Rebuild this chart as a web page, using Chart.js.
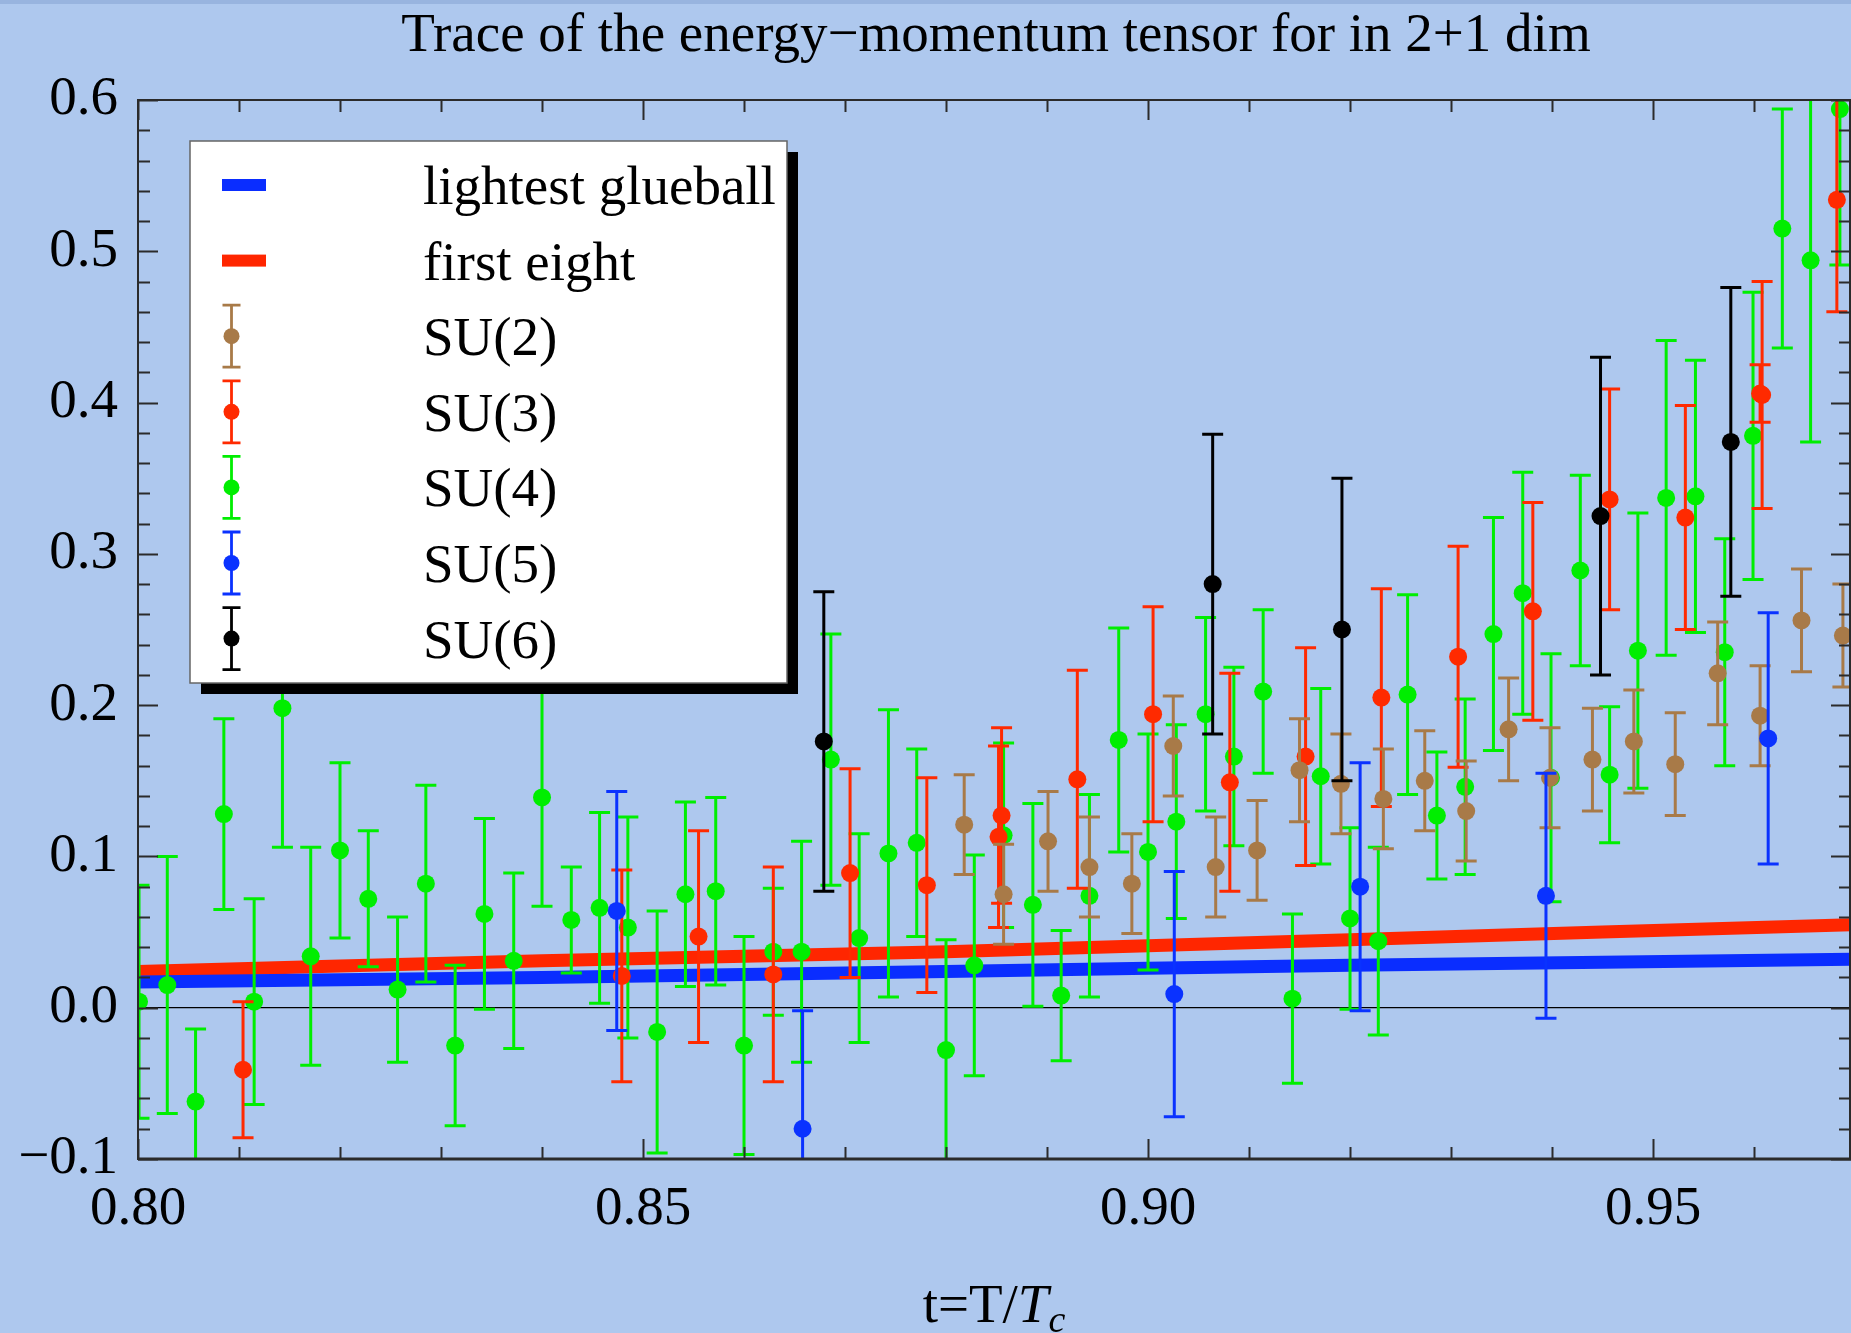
<!DOCTYPE html>
<html>
<head>
<meta charset="utf-8">
<title>Trace of the energy-momentum tensor</title>
<script src="https://cdn.jsdelivr.net/npm/chart.js@4.4.1/dist/chart.umd.min.js"></script>
<style>
    html, body { margin: 0; padding: 0; background: #aec8ee; }
    #wrap { width: 1851px; height: 1333px; }
</style>
</head>
<body>
<div id="wrap"><canvas id="chart" width="1851" height="1333"></canvas></div>
<script>
// Values.
const titleText = 'Trace of the energy\u2212momentum tensor for in 2+1 dim';

const xTickValues = [0.80, 0.85, 0.90, 0.95];
const yTickValues = [-0.1, 0.0, 0.1, 0.2, 0.3, 0.4, 0.5, 0.6];

// curves
const glueballX = [0.80, 0.84, 0.88, 0.92, 0.97];
const glueballY = [0.017, 0.020, 0.024, 0.028, 0.032];
const firstEightX = [0.80, 0.84, 0.88, 0.92, 0.97];
const firstEightY = [0.024, 0.031, 0.037, 0.045, 0.055];

// SU(2)
const su2X = [0.8818, 0.8857, 0.8901, 0.8942, 0.8984, 0.9025, 0.9067, 0.9108, 0.9150, 0.9191, 0.9233,
    0.9274, 0.9315, 0.9357, 0.9398, 0.9440, 0.9481, 0.9522, 0.9564, 0.9606, 0.9647, 0.9688];
const su2Y = [0.121, 0.075, 0.110, 0.093, 0.082, 0.173, 0.093, 0.104, 0.157, 0.148, 0.138,
    0.150, 0.130, 0.184, 0.152, 0.164, 0.176, 0.161, 0.221, 0.193, 0.256, 0.246];
const su2Err = [0.033, 0.033, 0.033, 0.033, 0.033, 0.033, 0.033, 0.033, 0.034, 0.033, 0.033,
    0.033, 0.033, 0.034, 0.033, 0.034, 0.034, 0.034, 0.034, 0.033, 0.034, 0.034];

// SU(3)
const su3X = [0.8104, 0.8479, 0.8555, 0.8629, 0.8705, 0.8781, 0.8855, 0.8852, 0.8930, 0.9005, 0.9081,
    0.9156, 0.9231, 0.9307, 0.9381, 0.9457, 0.9532, 0.9608, 0.9606, 0.9682];
const su3Y = [-0.041, 0.021, 0.047, 0.022, 0.089, 0.081, 0.127, 0.113, 0.151, 0.194, 0.149,
    0.166, 0.205, 0.232, 0.262, 0.336, 0.324, 0.405, 0.406, 0.534];
const su3Err = [0.045, 0.070, 0.070, 0.071, 0.069, 0.071, 0.058, 0.060, 0.072, 0.071, 0.072,
    0.072, 0.072, 0.073, 0.072, 0.073, 0.074, 0.075, 0.019, 0.074];

// SU(4)
const su4X = [0.8001, 0.8029, 0.8057, 0.8085, 0.8115, 0.8143, 0.8171, 0.8200, 0.8228, 0.8257,
    0.8285, 0.8314, 0.8343, 0.8372, 0.8400, 0.8429, 0.8457, 0.8485, 0.8514, 0.8542,
    0.8572, 0.8600, 0.8629, 0.8657, 0.8686, 0.8714, 0.8743, 0.8771, 0.8800, 0.8828,
    0.8857, 0.8886, 0.8914, 0.8942, 0.8971, 0.9000, 0.9028, 0.9057, 0.9085, 0.9114,
    0.9143, 0.9171, 0.9200, 0.9228, 0.9257, 0.9286, 0.9314, 0.9342, 0.9371, 0.9399,
    0.9428, 0.9457, 0.9485, 0.9513, 0.9542, 0.9571, 0.9599, 0.9628, 0.9656, 0.9685];
const su4Y = [0.004, 0.015, -0.062, 0.128, 0.004, 0.198, 0.034, 0.104, 0.072, 0.012,
    0.082, -0.025, 0.062, 0.031, 0.139, 0.058, 0.066, 0.053, -0.016, 0.075,
    0.077, -0.025, 0.037, 0.037, 0.164, 0.046, 0.102, 0.109, -0.028, 0.028,
    0.114, 0.068, 0.008, 0.074, 0.177, 0.103, 0.123, 0.194, 0.166, 0.209,
    0.006, 0.153, 0.059, 0.044, 0.207, 0.127, 0.146, 0.247, 0.274, 0.152,
    0.289, 0.154, 0.236, 0.337, 0.338, 0.235, 0.378, 0.515, 0.494, 0.594];
const su4Err = [0.077, 0.085, 0.048, 0.063, 0.068, 0.092, 0.072, 0.058, 0.045, 0.048,
    0.065, 0.053, 0.063, 0.058, 0.072, 0.035, 0.063, 0.073, 0.080, 0.061,
    0.062, 0.072, 0.042, 0.073, 0.083, 0.069, 0.095, 0.062, 0.073, 0.073,
    0.061, 0.067, 0.043, 0.067, 0.074, 0.078, 0.064, 0.064, 0.059, 0.054,
    0.056, 0.058, 0.060, 0.062, 0.066, 0.042, 0.058, 0.077, 0.080, 0.082,
    0.063, 0.045, 0.091, 0.104, 0.090, 0.075, 0.095, 0.079, 0.120, 0.103];

// SU(5)
const su5X = [0.8474, 0.8658, 0.9026, 0.9210, 0.9394, 0.9614];
const su5Y = [0.064, -0.080, 0.009, 0.080, 0.074, 0.178];
const su5Err = [0.079, 0.078, 0.081, 0.082, 0.081, 0.083];

// SU(6)
const su6X = [0.8679, 0.9064, 0.9192, 0.9448, 0.9577];
const su6Y = [0.176, 0.280, 0.250, 0.325, 0.374];
const su6Err = [0.099, 0.099, 0.100, 0.105, 0.102];

const FONT = '"Liberation Serif", "Times New Roman", Times, serif';
const COLORS = {
    su2: '#a87a48',
    su3: '#ff2a00',
    su4: '#00ee00',
    su5: '#0a32ff',
    su6: '#000000',
    glueball: '#0a2dff',
    firstEight: '#ff2600'
};

const toPoints = (xs, ys) => xs.map((x, i) => ({ x, y: ys[i] }));

function seriesDataset(label, xs, ys, errs, color) {
    return {
        label,
        data: toPoints(xs, ys),
        errors: errs,
        backgroundColor: color,
        borderColor: color,
        pointRadius: 9,
        pointBorderWidth: 0,
        showLine: false,
        order: 0
    };
}

function curveDataset(label, xs, ys, color) {
    return {
        type: 'line',
        label,
        data: toPoints(xs, ys),
        borderColor: color,
        backgroundColor: color,
        borderWidth: 13,
        pointRadius: 0,
        tension: 0.3,
        fill: false,
        isCurve: true,
        order: 5
    };
}

const datasets = [
    seriesDataset('SU(6)', su6X, su6Y, su6Err, COLORS.su6),
    seriesDataset('SU(5)', su5X, su5Y, su5Err, COLORS.su5),
    seriesDataset('SU(2)', su2X, su2Y, su2Err, COLORS.su2),
    seriesDataset('SU(3)', su3X, su3Y, su3Err, COLORS.su3),
    seriesDataset('SU(4)', su4X, su4Y, su4Err, COLORS.su4),
    curveDataset('lightest glueball', glueballX, glueballY, COLORS.glueball),
    curveDataset('first eight', firstEightX, firstEightY, COLORS.firstEight)
];

const legendOrder = ['lightest glueball', 'first eight', 'SU(2)', 'SU(3)', 'SU(4)', 'SU(5)', 'SU(6)'];

function clipToArea(ctx, area) {
    ctx.beginPath();
    ctx.rect(area.left, area.top, area.right - area.left, area.bottom - area.top);
    ctx.clip();
}

const backgroundPlugin = {
    id: 'pageBackground',
    beforeDraw(chart) {
        const { ctx, width, height } = chart;
        ctx.save();
        ctx.fillStyle = '#aec8ee';
        ctx.fillRect(0, 0, width, height);
        ctx.fillStyle = '#98b4df';
        ctx.fillRect(0, 0, width, 4);
        // title
        ctx.fillStyle = '#000';
        ctx.font = `55px ${FONT}`;
        ctx.textAlign = 'center';
        ctx.textBaseline = 'alphabetic';
        ctx.fillText(titleText, 996, 51);
        ctx.restore();
    },
    beforeDatasetsDraw(chart) {
        const { ctx, chartArea, scales: { y } } = chart;
        const y0 = y.getPixelForValue(0);
        ctx.save();
        ctx.strokeStyle = '#000';
        ctx.lineWidth = 1.3;
        ctx.beginPath();
        ctx.moveTo(chartArea.left, y0);
        ctx.lineTo(chartArea.right, y0);
        ctx.stroke();
        ctx.restore();
    }
};

const errorBarPlugin = {
    id: 'errorBars',
    beforeDatasetDraw(chart, args) {
        const ds = chart.data.datasets[args.index];
        if (!ds.errors) return;
        const { ctx, chartArea, scales: { x, y } } = chart;
        ctx.save();
        clipToArea(ctx, chartArea);
        ctx.strokeStyle = ds.borderColor;
        ctx.lineWidth = 3;
        ds.data.forEach((p, i) => {
            const px = x.getPixelForValue(p.x);
            const top = y.getPixelForValue(p.y + ds.errors[i]);
            const bot = y.getPixelForValue(p.y - ds.errors[i]);
            ctx.beginPath();
            ctx.moveTo(px, top);
            ctx.lineTo(px, bot);
            ctx.moveTo(px - 10.5, top);
            ctx.lineTo(px + 10.5, top);
            ctx.moveTo(px - 10.5, bot);
            ctx.lineTo(px + 10.5, bot);
            ctx.stroke();
        });
        ctx.restore();
    }
};

const framePlugin = {
    id: 'frameTicks',
    afterDatasetsDraw(chart) {
        const { ctx, chartArea: a, scales: { x, y } } = chart;
        ctx.save();
        ctx.strokeStyle = '#2b2b2b';
        ctx.lineWidth = 2;
        ctx.strokeRect(a.left, a.top, a.right - a.left - 1, a.bottom - a.top);
        ctx.lineWidth = 3;
        ctx.beginPath();
        ctx.moveTo(a.left, a.bottom);
        ctx.lineTo(a.right, a.bottom);
        ctx.stroke();

        ctx.lineWidth = 2;
        ctx.beginPath();
        for (let k = 0; k <= 17; k++) {
            const v = 0.80 + k * 0.01;
            if (v > x.max) break;
            const px = Math.round(x.getPixelForValue(v)) + 0.5;
            const len = k % 5 === 0 ? 20 : 12;
            ctx.moveTo(px, a.bottom);
            ctx.lineTo(px, a.bottom - len);
            ctx.moveTo(px, a.top);
            ctx.lineTo(px, a.top + len);
        }
        for (let k = 0; k <= 35; k++) {
            const v = -0.1 + k * 0.02;
            const py = Math.round(y.getPixelForValue(v)) + 0.5;
            const len = k % 5 === 0 ? 20 : 12;
            ctx.moveTo(a.left, py);
            ctx.lineTo(a.left + len, py);
            ctx.moveTo(a.right, py);
            ctx.lineTo(a.right - len, py);
        }
        ctx.stroke();

        // axis title t=T/T_c
        ctx.fillStyle = '#000';
        ctx.textBaseline = 'alphabetic';
        ctx.textAlign = 'left';
        const regular = `55px ${FONT}`;
        const italic = `italic 55px ${FONT}`;
        const sub = `italic 38px ${FONT}`;
        ctx.font = regular;
        const w1 = ctx.measureText('t=T/').width;
        ctx.font = italic;
        const w2 = ctx.measureText('T').width;
        ctx.font = sub;
        const w3 = ctx.measureText('c').width;
        let cx = 994 - (w1 + w2 + w3) / 2;
        const base = 1322;
        ctx.font = regular;
        ctx.fillText('t=T/', cx, base);
        cx += w1;
        ctx.font = italic;
        ctx.fillText('T', cx, base);
        cx += w2;
        ctx.font = sub;
        ctx.fillText('c', cx, base + 10);
        ctx.restore();
    }
};

const legendPlugin = {
    id: 'boxLegend',
    afterDraw(chart) {
        const { ctx } = chart;
        const box = { left: 190, top: 141, right: 787, bottom: 683 };
        ctx.save();
        ctx.fillStyle = '#000';
        ctx.fillRect(box.left + 11, box.top + 11, box.right - box.left, box.bottom - box.top);
        ctx.fillStyle = '#fff';
        ctx.fillRect(box.left, box.top, box.right - box.left, box.bottom - box.top);
        ctx.strokeStyle = '#666';
        ctx.lineWidth = 1.5;
        ctx.strokeRect(box.left, box.top, box.right - box.left, box.bottom - box.top);

        ctx.font = `55px ${FONT}`;
        ctx.textAlign = 'left';
        ctx.textBaseline = 'alphabetic';
        legendOrder.forEach((label, i) => {
            const ds = chart.data.datasets.find(d => d.label === label);
            const cy = 185 + i * 75.6;
            if (ds.isCurve) {
                ctx.fillStyle = ds.borderColor;
                ctx.fillRect(222, cy - 6, 44, 12);
            } else {
                const cx = 231.5;
                ctx.strokeStyle = ds.borderColor;
                ctx.lineWidth = 2.8;
                ctx.beginPath();
                ctx.moveTo(cx, cy - 31);
                ctx.lineTo(cx, cy + 31);
                ctx.moveTo(cx - 9, cy - 31);
                ctx.lineTo(cx + 9, cy - 31);
                ctx.moveTo(cx - 9, cy + 31);
                ctx.lineTo(cx + 9, cy + 31);
                ctx.stroke();
                ctx.fillStyle = ds.backgroundColor;
                ctx.beginPath();
                ctx.arc(cx, cy, 8, 0, Math.PI * 2);
                ctx.fill();
            }
            ctx.fillStyle = '#000';
            ctx.fillText(label, 423, cy + 19);
        });
        ctx.restore();
    }
};

const tickFont = { family: FONT, size: 55 };

new Chart(document.getElementById('chart').getContext('2d'), {
    type: 'scatter',
    data: { datasets },
    options: {
        responsive: false,
        animation: false,
        events: [],
        layout: { autoPadding: false, padding: { top: 100, right: 0, bottom: 0, left: 0 } },
        plugins: {
            legend: { display: false },
            tooltip: { enabled: false },
            title: { display: false }
        },
        scales: {
            x: {
                type: 'linear',
                min: 0.80,
                max: 0.9696,
                afterBuildTicks: scale => { scale.ticks = xTickValues.map(value => ({ value })); },
                afterFit: scale => { scale.height = 174; },
                grid: { display: false, drawTicks: false },
                border: { display: false },
                ticks: {
                    padding: 18,
                    color: '#000',
                    font: tickFont,
                    maxRotation: 0,
                    autoSkip: false,
                    callback: value => value.toFixed(2)
                }
            },
            y: {
                type: 'linear',
                min: -0.1,
                max: 0.6,
                afterBuildTicks: scale => { scale.ticks = yTickValues.map(value => ({ value })); },
                afterFit: scale => { scale.width = 138; },
                grid: { display: false, drawTicks: false },
                border: { display: false },
                ticks: {
                    padding: 20,
                    color: '#000',
                    font: tickFont,
                    autoSkip: false,
                    callback: value => (value < 0 ? '\u2212' + Math.abs(value).toFixed(1) : value.toFixed(1))
                }
            }
        }
    },
    plugins: [backgroundPlugin, errorBarPlugin, framePlugin, legendPlugin]
});
</script>
</body>
</html>
